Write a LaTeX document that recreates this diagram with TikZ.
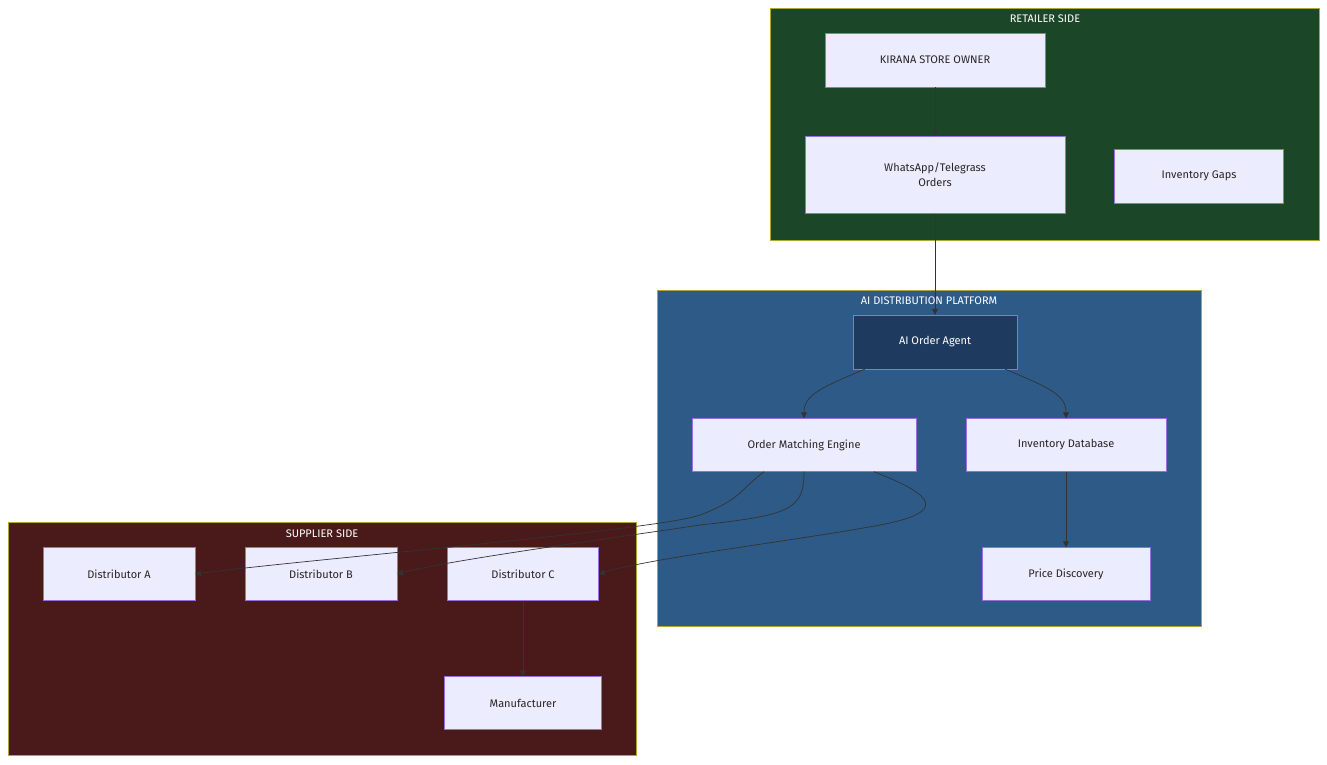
\documentclass[tikz,border=0pt]{standalone}
\usepackage{fontspec}
\setmainfont{Fira Sans}
\usetikzlibrary{arrows.meta,positioning}
\definecolor{retail}{HTML}{1B4628}
\definecolor{platform}{HTML}{2E5A87}
\definecolor{supplier}{HTML}{4A1A1A}
\definecolor{boxfill}{HTML}{ECECFF}
\definecolor{boxline}{HTML}{9370DB}
\definecolor{agent}{HTML}{1E3A5F}
\definecolor{edge}{HTML}{333333}
\definecolor{frame}{HTML}{AAAA33}
\begin{document}
\begin{tikzpicture}[x=1pt,y=-1pt,
  box/.style={draw=boxline,fill=boxfill,text=black!85,font=\fontsize{11}{15}\selectfont,align=center,inner sep=0pt},
  group/.style={draw=frame,line width=0.6pt},
  title/.style={text=white,font=\fontsize{11}{13}\selectfont},
  link/.style={draw=edge,line width=0.7pt,-{Triangle[length=6pt,width=6pt]}}]
	\useasboundingbox[fill=white] (0,0) rectangle (1327,764);
	% clusters
	\filldraw[group,fill=retail] (770,8) rectangle (1319,240);
	\node[title] (rt) at (1045,19) {RETAILER SIDE};
	\filldraw[group,fill=platform] (657,290) rectangle (1201,626);
	\node[title] (pt) at (929,301) {AI DISTRIBUTION PLATFORM};
	\filldraw[group,fill=supplier] (8,522) rectangle (636,755);
	\node[title] (st) at (322,534) {SUPPLIER SIDE};
	% nodes
	\node[box,minimum width=220,minimum height=54] (kirana) at (935,60) {KIRANA STORE OWNER};
	\node[box,minimum width=260,minimum height=77] (chat) at (935,175) {WhatsApp/Telegrass\\Orders};
	\node[box,minimum width=169,minimum height=54] (gaps) at (1199,176) {Inventory Gaps};
	\node[box,fill=agent,text=white,minimum width=164,minimum height=54] (aiagent) at (935,342) {AI Order Agent};
	\node[box,minimum width=224,minimum height=53] (match) at (804,445) {Order Matching Engine};
	\node[box,minimum width=200,minimum height=53] (invdb) at (1066,445) {Inventory Database};
	\node[box,minimum width=168,minimum height=53] (price) at (1066,574) {Price Discovery};
	\node[box,minimum width=152,minimum height=53] (distA) at (119,574) {Distributor A};
	\node[box,minimum width=152,minimum height=53] (distB) at (321,574) {Distributor B};
	\node[box,minimum width=151,minimum height=53] (distC) at (523,574) {Distributor C};
	\node[box,minimum width=157,minimum height=53] (maker) at (523,703) {Manufacturer};
	% connectors
	\draw[link] (kirana) -- (chat);
	\draw[link] (chat) -- (aiagent);
	\draw[link] (aiagent.south west)++(12,0) coordinate (a1) .. controls (820,388) and (804,395) .. (match.north);
	\draw[link] (aiagent.south east)++(-12,0) coordinate (a2) .. controls (1050,388) and (1066,395) .. (invdb.north);
	\draw[link] (match.south)++(-40,0) coordinate (m1) .. controls (740,490) and (740,500) .. (700,515) .. controls (660,530) and (300,560) .. (distA.east);
	\draw[link] (match.south) .. controls (804,510) and (790,515) .. (700,525) .. controls (600,540) and (450,560) .. (distB.east);
	\draw[link] (match.south)++(70,0) coordinate (m2) .. controls (920,490) and (960,510) .. (880,525) .. controls (800,540) and (650,558) .. (distC.east);
	\draw[link] (invdb) -- (price);
	\draw[link] (distC) -- (maker);
\end{tikzpicture}
\end{document}
